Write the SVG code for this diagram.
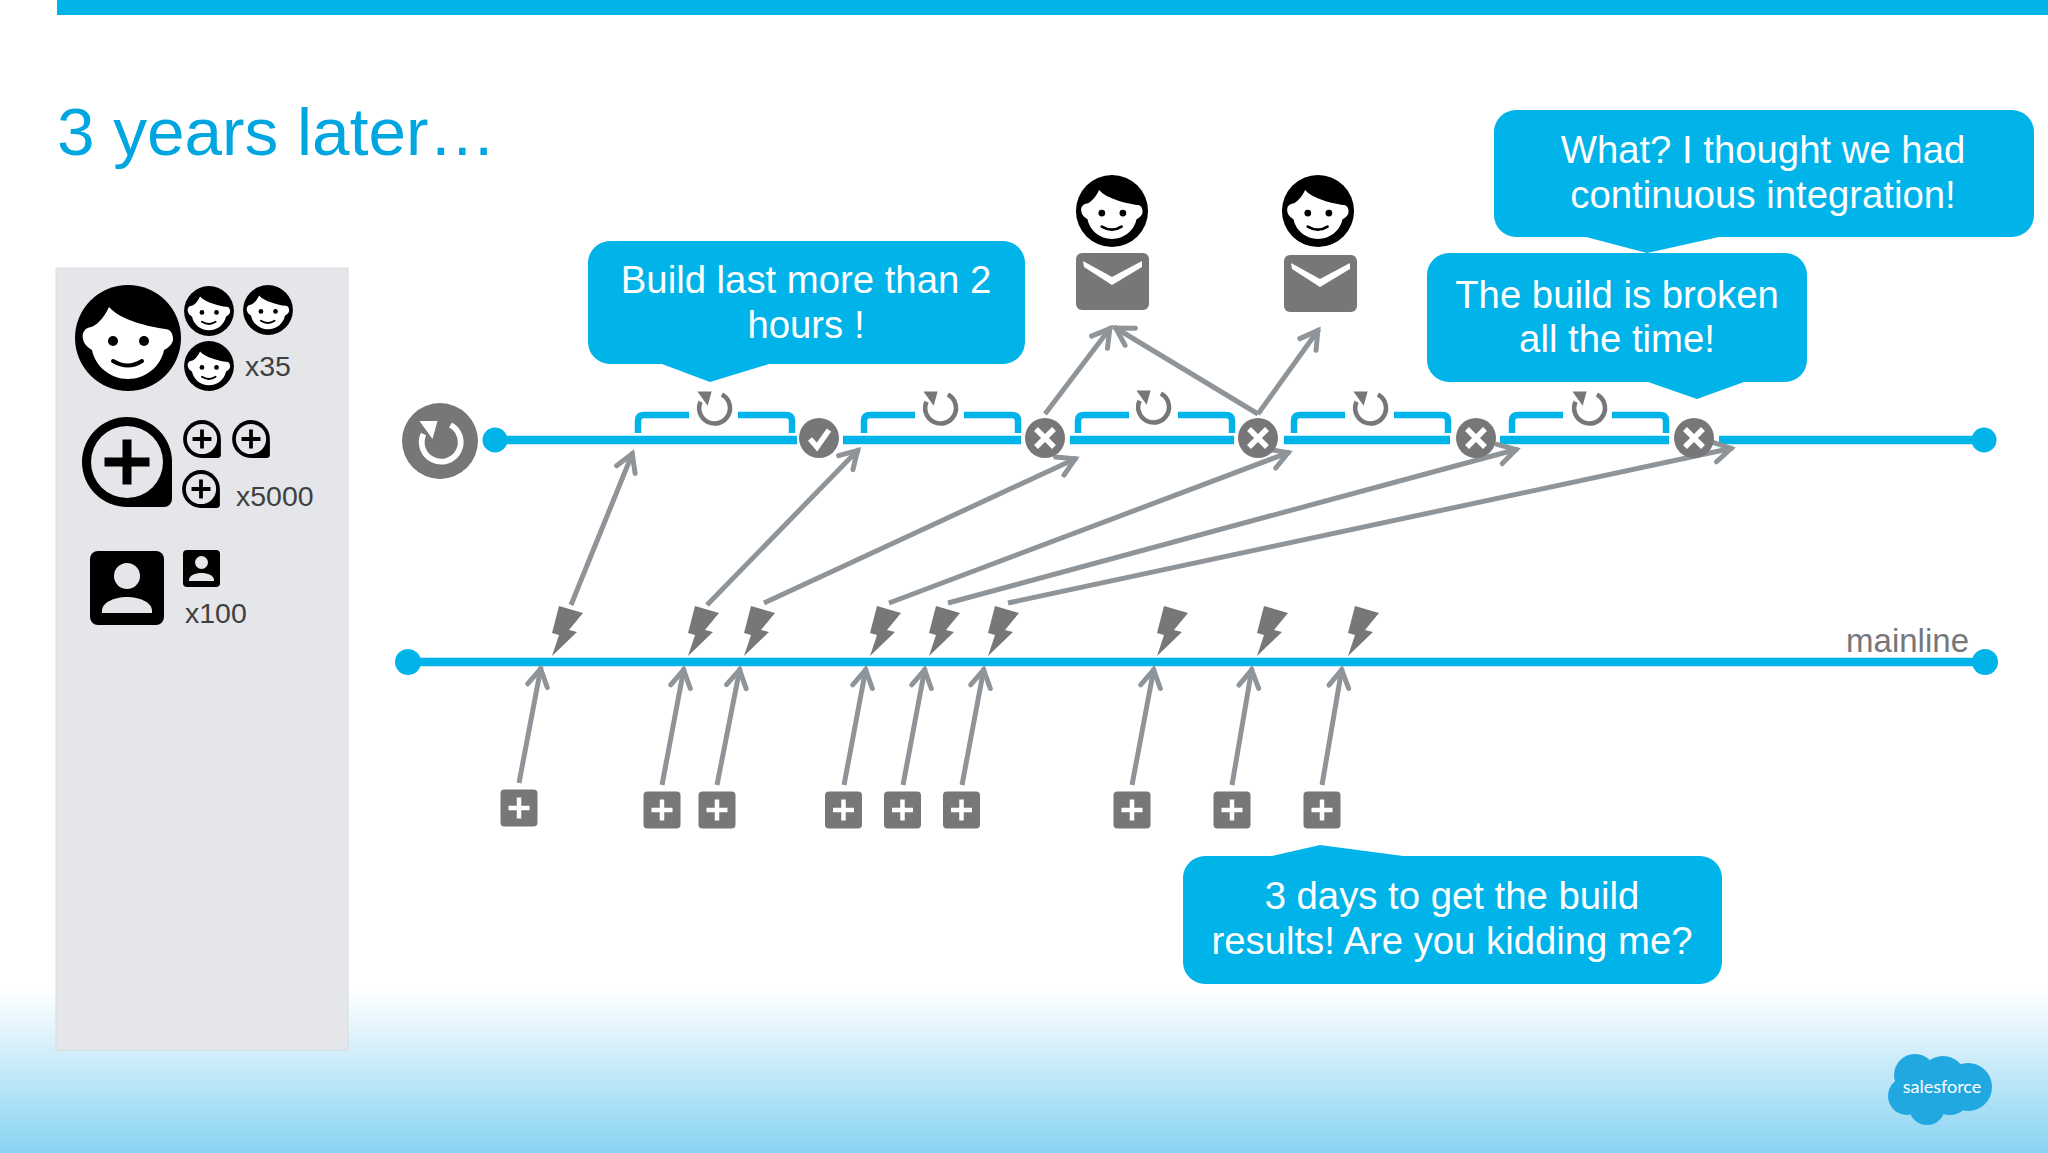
<svg xmlns="http://www.w3.org/2000/svg" width="2048" height="1153" viewBox="0 0 2048 1153">
<style>
text{font-family:"Liberation Sans",Arial,sans-serif}
.c{fill:#00b4ea}
.ct{fill:#fff;font-size:38.300px;text-anchor:middle}
.lb{fill:#404040;font-size:28.500px}
.g{fill:#77777a}
.tl{stroke:#00b4ea;stroke-width:8.500;fill:none}
.br{stroke:#00b4ea;stroke-width:6.500;fill:none}
.ar{stroke:#8f9499;stroke-width:5;fill:none;marker-end:url(#ah)}
.wm{stroke:#fff;stroke-width:5.500;fill:none}
</style>
<defs>
<linearGradient id="bg" x1="0" y1="0" x2="0" y2="1"><stop offset="0" stop-color="#fff"/><stop offset="1" stop-color="#88d3f2"/></linearGradient>
<marker id="ah" markerUnits="userSpaceOnUse" markerWidth="30" markerHeight="30" refX="22" refY="15" orient="auto" overflow="visible"><path d="M3,5 L20,15 L3,25" fill="none" stroke="#8f9499" stroke-width="5" stroke-linecap="round"/></marker>
<g id="face"><circle r="53" fill="#000"/><path fill="#fff" d="M-19,-31C-24,-20-32,-12-37,-11C-45,-10-46,-3-45,1C-44,7-39,10-36,12C-33,28-18,41 0,41C18,41 33,28 36,12C40,10 45,6 45,1C45,-5 42,-9 37,-9C22,-11-8,-18-19,-31Z"/><circle cx="-15" cy="3" r="5"/><circle cx="16" cy="3" r="5"/><path d="M-15,23Q0,32 14,23" fill="none" stroke="#000" stroke-width="4" stroke-linecap="round"/></g>
<g id="bubble"><path fill="#000" d="M0,-45A45,45 0 0 1 45,0V37A8,8 0 0 1 37,45H0A45,45 0 0 1 0,-45Z"/><circle r="36" fill="#e4e6ea"/><path fill="#000" d="M-4.500,-22.500H4.500V-4.500H22.500V4.500H4.500V22.500H-4.500V4.500H-22.500V-4.500H-4.500Z"/></g>
<g id="person"><rect x="-37" y="-37" width="74" height="74" rx="8" fill="#000"/><circle cy="-12" r="13" fill="#e4e6ea"/><path fill="#e4e6ea" d="M-25,25V23C-25,14-12,9 0,9C12,9 25,14 25,23V25Z"/></g>
<g id="reload"><path d="M10,-17A19.500,19.500 0 1 1 -17,-8" fill="none" stroke="currentColor" stroke-width="5.800"/><path fill="currentColor" d="M-21,-21H-3L-8,-3Z"/></g>
<path id="bolt" class="g" d="M0,0L25,-24L17,-26L31,-43L7,-50L0,-23L7,-21Z"/>
<g id="plus"><rect x="-18.500" y="-18.500" width="37" height="37" rx="4" class="g"/><path d="M-10.500,0H10.500M0,-10.500V10.500" stroke="#fff" stroke-width="4.500" fill="none"/></g>
<g id="fail"><circle r="20" class="g"/><path d="M-9,-9L9,9M9,-9L-9,9" class="wm"/></g>
<path id="bracket" class="br" d="M0,18V6Q0,0 6,0H51M100,0H148Q154,0 154,6V18"/>
<g id="mail"><rect width="73" height="57" rx="6" class="g"/><path fill="#fff" d="M7,8L36,24L66,8V14L36,32L8,14Z"/></g>
</defs>

<rect width="2048" height="1153" fill="#fff"/>
<rect y="990" width="2048" height="163" fill="url(#bg)"/>
<rect x="57" width="1991" height="15" class="c"/>
<text x="57" y="155" font-size="67.500" fill="#00a6e0">3 years later…</text>

<g id="legend-panel">
<rect x="56" y="268" width="292" height="782" fill="#e4e6ea" stroke="#d9dbde" stroke-width="1"/>
</g>
<g id="legend-developers">
<use href="#face" transform="translate(128,338)"/>
<use href="#face" transform="translate(209,311) scale(.47)"/>
<use href="#face" transform="translate(268,310) scale(.47)"/>
<use href="#face" transform="translate(209,366) scale(.47)"/>
<text x="245" y="376" class="lb">x35</text>
</g>
<g id="legend-commits">
<use href="#bubble" transform="translate(127,462)"/>
<use href="#bubble" transform="translate(202,439) scale(.42)"/>
<use href="#bubble" transform="translate(251,439) scale(.42)"/>
<use href="#bubble" transform="translate(201,489) scale(.42)"/>
<text x="236" y="506" class="lb">x5000</text>
</g>
<g id="legend-tests">
<use href="#person" transform="translate(127,588)"/>
<use href="#person" transform="translate(201.500,568.500) scale(.5)"/>
<text x="185" y="623" class="lb">x100</text>
</g>

<g id="connectors">
<path class="tl" d="M495,440H797M843,440H1021M1070,440H1234M1284,440H1450M1500,440H1669M1719,440H1984"/>
<path class="tl" d="M408,662H1985"/>
<use href="#bracket" x="638" y="415"/>
<use href="#bracket" x="864" y="415"/>
<use href="#bracket" x="1078" y="415"/>
<use href="#bracket" x="1294" y="415"/>
<use href="#bracket" x="1512" y="415"/>
<path class="ar" d="M519,783L541,667"/>
<path class="ar" d="M662,785L684,668"/>
<path class="ar" d="M717,785L740,668"/>
<path class="ar" d="M844,785L866,668"/>
<path class="ar" d="M903,785L925,668"/>
<path class="ar" d="M962,785L984,668"/>
<path class="ar" d="M1132,785L1154,668"/>
<path class="ar" d="M1232,785L1252,668"/>
<path class="ar" d="M1322,785L1342,668"/>
<path class="ar" d="M571,605L633,452"/>
<path class="ar" d="M707,605L859,449"/>
<path class="ar" d="M764,603L1077,458"/>
<path class="ar" d="M889,603L1290,452"/>
<path class="ar" d="M948,603L1518,449"/>
<path class="ar" d="M1008,603L1733,448"/>
<path class="ar" d="M1045,414L1111,327"/>
<path class="ar" d="M1258,414L1114,327"/>
<path class="ar" d="M1258,414L1319,329"/>
</g>

<g id="start"><circle cx="440" cy="441" r="38" class="g"/><use href="#reload" transform="translate(440.500,442)" color="#fff"/></g>
<g id="top-start-dot"><circle cx="495" cy="440" r="12.500" class="c"/></g>
<g id="top-end-dot"><circle cx="1984" cy="440" r="12.500" class="c"/></g>
<g id="main-start-dot"><circle cx="408" cy="662" r="13" class="c"/></g>
<g id="main-end-dot"><circle cx="1985" cy="662" r="13" class="c"/></g>
<g id="mainline-label"><text x="1969" y="652" font-size="33" fill="#77777a" text-anchor="end">mainline</text></g>

<g id="build-icons">
<use href="#reload" transform="translate(714,408) scale(.79)" color="#77777a"/>
<use href="#reload" transform="translate(940,408) scale(.79)" color="#77777a"/>
<use href="#reload" transform="translate(1153,407) scale(.79)" color="#77777a"/>
<use href="#reload" transform="translate(1370,408) scale(.79)" color="#77777a"/>
<use href="#reload" transform="translate(1589,408) scale(.79)" color="#77777a"/>
</g>
<g id="status-pass"><circle cx="819" cy="438" r="20" class="g"/><path d="M810,439L817,447L829,430" class="wm"/></g>
<g id="status-fail-1"><use href="#fail" x="1045" y="438"/></g>
<g id="status-fail-2"><use href="#fail" x="1258" y="438"/></g>
<g id="status-fail-3"><use href="#fail" x="1476" y="438"/></g>
<g id="status-fail-4"><use href="#fail" x="1694" y="438"/></g>

<g id="dev-1"><use href="#face" transform="translate(1112,211) scale(.68)"/></g>
<g id="dev-2"><use href="#face" transform="translate(1318,211) scale(.68)"/></g>
<g id="mail-1"><use href="#mail" x="1076" y="253"/></g>
<g id="mail-2"><use href="#mail" x="1284" y="255"/></g>

<g id="bolts">
<use href="#bolt" x="552" y="656"/><use href="#bolt" x="688" y="656"/><use href="#bolt" x="744" y="656"/>
<use href="#bolt" x="870" y="656"/><use href="#bolt" x="929" y="656"/><use href="#bolt" x="988" y="656"/>
<use href="#bolt" x="1157" y="656"/><use href="#bolt" x="1257" y="656"/><use href="#bolt" x="1348" y="656"/>
</g>
<g id="commits">
<use href="#plus" x="519" y="808"/><use href="#plus" x="662" y="810"/><use href="#plus" x="717" y="810"/>
<use href="#plus" x="843.500" y="810"/><use href="#plus" x="902.500" y="810"/><use href="#plus" x="961.500" y="810"/>
<use href="#plus" x="1132" y="810"/><use href="#plus" x="1232" y="810"/><use href="#plus" x="1322" y="810"/>
</g>

<g id="callout-build">
<path class="c" d="M610,241H1003A22,22 0 0 1 1025,263V342A22,22 0 0 1 1003,364H769L710,382L662,364H610A22,22 0 0 1 588,342V263A22,22 0 0 1 610,241Z"/>
<text x="806" y="293" class="ct">Build last more than 2</text>
<text x="806" y="338" class="ct">hours !</text>
</g>
<g id="callout-what">
<path class="c" d="M1516,110H2012A22,22 0 0 1 2034,132V215A22,22 0 0 1 2012,237H1719L1647,253L1586,237H1516A22,22 0 0 1 1494,215V132A22,22 0 0 1 1516,110Z"/>
<text x="1763" y="163" class="ct">What? I thought we had</text>
<text x="1763" y="208" class="ct">continuous integration!</text>
</g>
<g id="callout-broken">
<path class="c" d="M1449,253H1785A22,22 0 0 1 1807,275V360A22,22 0 0 1 1785,382H1744L1697,399L1648,382H1449A22,22 0 0 1 1427,360V275A22,22 0 0 1 1449,253Z"/>
<text x="1617" y="308" class="ct">The build is broken</text>
<text x="1617" y="352" class="ct">all the time!</text>
</g>
<g id="callout-days">
<path class="c" d="M1205,856H1272L1320,845L1403,856H1700A22,22 0 0 1 1722,878V962A22,22 0 0 1 1700,984H1205A22,22 0 0 1 1183,962V878A22,22 0 0 1 1205,856Z"/>
<text x="1452" y="909" class="ct">3 days to get the build</text>
<text x="1452" y="954" class="ct">results! Are you kidding me?</text>
</g>

<g id="logo">
<g fill="#22a8e0"><circle cx="1915" cy="1075" r="21"/><circle cx="1943" cy="1079" r="23"/><circle cx="1968" cy="1087" r="24"/><circle cx="1927" cy="1107" r="18"/><circle cx="1907" cy="1096" r="19"/><circle cx="1950" cy="1095" r="20"/></g>
<text x="1942" y="1092.500" font-size="18" fill="#fff" text-anchor="middle" style="font-family:Lato,'Open Sans',sans-serif">salesforce</text>
</g>
</svg>
